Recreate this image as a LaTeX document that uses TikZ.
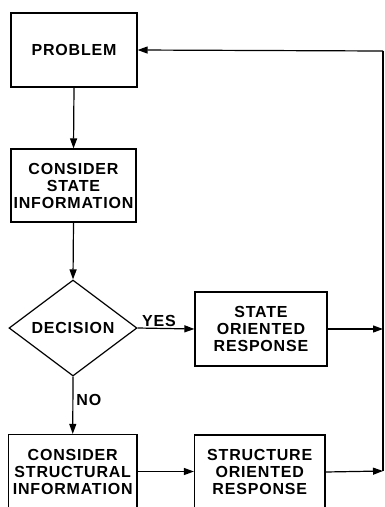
\documentclass[tikz,border=0pt]{standalone}
\usepackage{fontspec}
\setmainfont[LetterSpace=5]{Liberation Sans}
\usetikzlibrary{shapes.geometric,arrows.meta}
\tikzset{
  box/.style={draw, line width=1.2pt, rectangle, inner sep=0pt, align=center,
    font=\fontsize{16}{17}\selectfont\bfseries},
  dia/.style={draw, line width=1.2pt, diamond, inner sep=0pt, aspect=1.333,
    minimum width=128pt, minimum height=96pt, font=\fontsize{16}{17}\selectfont\bfseries},
  conn/.style={line width=1.2pt},
  arr/.style={line width=1.2pt, -{Triangle[length=10pt,width=7pt]}},
  lbl/.style={font=\fontsize{16}{17}\selectfont\bfseries, inner sep=1pt}
}
\begin{document}
\begin{tikzpicture}[x=1pt,y=-1pt]
\clip (0,0) rectangle (384,507);
\useasboundingbox (0,0) rectangle (384,507);
\node[box, minimum width=126pt, minimum height=74pt] (problem) at (74,50) {PROBLEM};
\node[box, minimum width=125pt, minimum height=73pt] (cstate) at (73.5,185.5) {CONSIDER\\STATE\\INFORMATION};
\node[dia] (decision) at (73,328) {DECISION};
\node[box, minimum width=132pt, minimum height=74pt] (sor) at (261,329) {STATE\\ORIENTED\\RESPONSE};
\node[box, minimum width=128.5pt, minimum height=74pt] (cstruct) at (72.75,471.5) {CONSIDER\\STRUCTURAL\\INFORMATION};
\node[box, minimum width=130.5pt, minimum height=74pt] (stor) at (259.75,472) {STRUCTURE\\ORIENTED\\RESPONSE};
\coordinate (rtop) at (383,51);
\coordinate (rmid) at (383,329);
\coordinate (rbot) at (383,471);
\draw[arr] (problem.south) -- (cstate.north);
\draw[arr] (cstate.south) -- (decision.north);
\draw[arr] (decision.east) -- node[lbl, pos=0, anchor=south west, xshift=3pt] (yes) {YES} (sor.west);
\draw[arr] (decision.south) -- node[lbl, pos=0.41, anchor=west, xshift=2pt] (no) {NO} (cstruct.north);
\draw[arr] (cstruct.east) -- (cstruct.east -| stor.west);
\draw[arr] (sor.east) -- (rmid);
\draw[arr] (stor.east) -- (rbot);
\draw[conn] (rbot) -- (rtop);
\draw[arr] (rtop) -- (problem.east);
\end{tikzpicture}
\end{document}
